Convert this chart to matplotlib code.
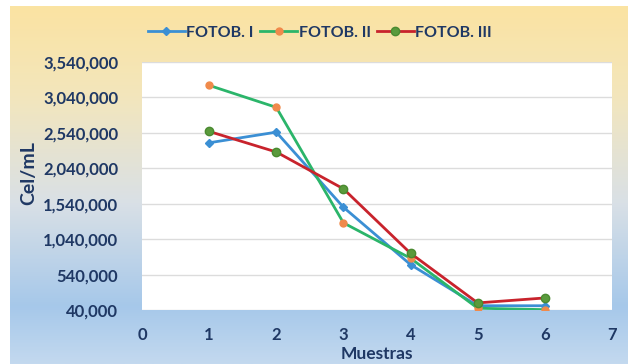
import matplotlib
matplotlib.use("Agg")
import matplotlib.pyplot as plt
import numpy as np
from matplotlib.colors import LinearSegmentedColormap
from matplotlib.ticker import FuncFormatter

samples = [1, 2, 3, 4, 5, 6]
fotob_1 = [2400000, 2550000, 1490000, 680000, 100000, 100000]
fotob_2 = [3210000, 2900000, 1270000, 770000, 65000, 45000]
fotob_3 = [2560000, 2270000, 1750000, 840000, 140000, 210000]
series_names = ["FOTOB. I", "FOTOB. II", "FOTOB. III"]
y_ticks = [40000, 540000, 1040000, 1540000, 2040000, 2540000, 3040000, 3540000]
x_ticks = [0, 1, 2, 3, 4, 5, 6, 7]

navy = "#1f3864"
plt.rcParams['font.family'] = ['Lato', 'DejaVu Sans']

W, H = 628, 364
fig = plt.figure(figsize=(W / 100, H / 100), dpi=100)
fig.patch.set_facecolor("white")

# gradient background
bg = fig.add_axes([10 / W, 0, 1 - 10 / W, 1 - 6 / H], zorder=0)
cmap = LinearSegmentedColormap.from_list(
    "bg", [(0, "#fbe3a2"), (0.25, "#f3e6bc"), (0.55, "#d9e0e6"), (0.84, "#a6c8ea"), (1, "#c3d9ef")])
grad = np.linspace(0, 1, 256).reshape(-1, 1)
bg.imshow(grad, aspect="auto", cmap=cmap, extent=[0, 1, 1, 0])
bg.set_axis_off()

ax = fig.add_axes([142 / W, 1 - 310 / H, (612 - 142) / W, (310 - 62) / H], zorder=1)
ax.set_facecolor("white")

ax.plot(samples, fotob_1, color="#3b8fd4", lw=2, marker="D", ms=4,
        mfc="#3b8fd4", mec="#3b8fd4", label=series_names[0], zorder=3)
ax.plot(samples, fotob_2, color="#2bb56a", lw=2, marker="o", ms=5,
        mfc="#f08a4b", mec="#f08a4b", label=series_names[1], zorder=3)
ax.plot(samples, fotob_3, color="#c8232c", lw=2, marker="o", ms=6,
        mfc="#5a9a3c", mec="#4a8a30", label=series_names[2], zorder=4)

ax.set_xlim(0, 7)
ax.set_ylim(40000, 3540000)
ax.set_xticks(x_ticks)
ax.set_yticks(y_ticks)
ax.yaxis.set_major_formatter(FuncFormatter(lambda v, p: f"{int(v):,}"))
ax.grid(axis="y", color="#dcdcdc", lw=1)
ax.set_axisbelow(True)
for s in ax.spines.values():
    s.set_visible(False)
ax.tick_params(length=0, labelsize=12, labelcolor=navy)
ax.tick_params(axis="y", pad=17)
ax.tick_params(axis="x", pad=12)
for lbl in ax.get_xticklabels() + ax.get_yticklabels():
    lbl.set_fontweight("bold")

ax.set_xlabel("Muestras", fontsize=12.5, fontweight="bold", color=navy, va="center")
ax.xaxis.set_label_coords((377 - 142) / (612 - 142), -(354 - 310) / (310 - 62))
ax.set_ylabel("Cel/mL", fontsize=14, fontweight="bold", color=navy, va="center")
ax.yaxis.set_label_coords(-(142 - 29) / (612 - 142), (310 - 173) / (310 - 62))

leg = fig.legend(loc="center", bbox_to_anchor=(320 / W, 1 - 33 / H), ncol=3,
                 frameon=False, handlelength=2.3, handletextpad=0.1, columnspacing=0.4,
                 prop={"weight": "bold", "size": 11.5})
for t in leg.get_texts():
    t.set_color(navy)

fig.savefig("out.png", dpi=100)
